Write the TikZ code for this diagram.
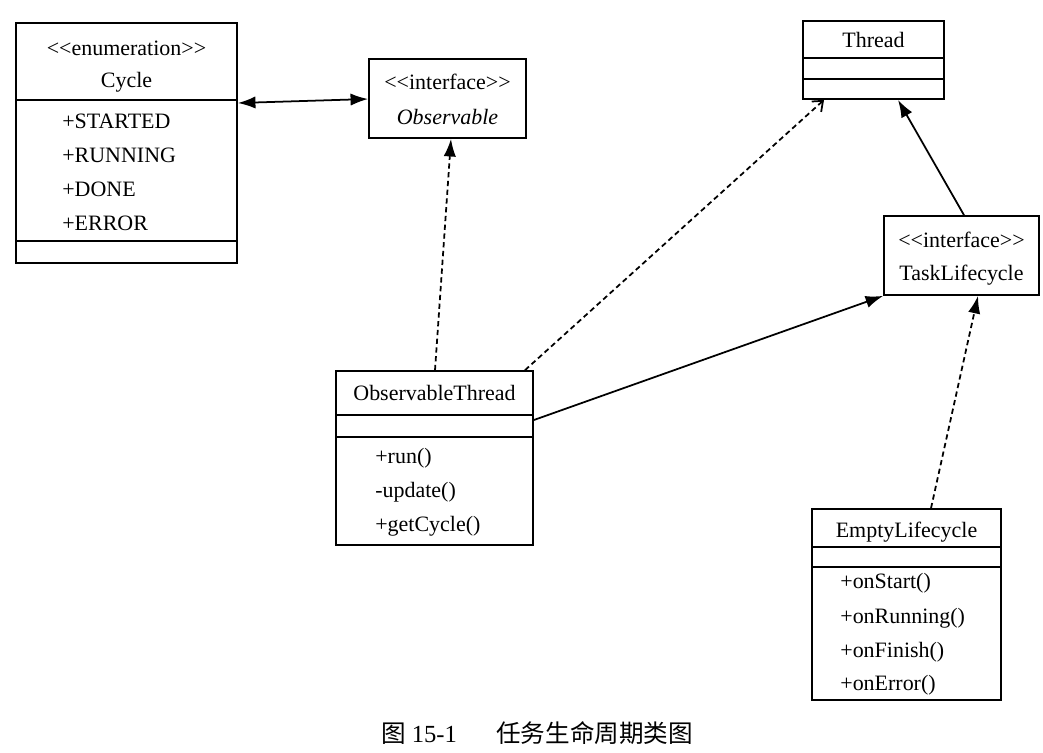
\documentclass[tikz,border=0pt]{standalone}
\usepackage{fontspec}
\setmainfont{Liberation Serif}
\newfontfamily\cjk{Noto Sans CJK SC}
\usetikzlibrary{arrows.meta}
\newcommand\stereo[1]{<\kern0pt<#1>\kern0pt>}
\tikzstyle{classbox}=[draw,line width=1pt,inner sep=0pt]
\tikzstyle{txt}=[font=\fontsize{12.5}{15}\selectfont,inner sep=0pt]
\tikzstyle{member}=[txt,anchor=west]
\tikzstyle{sep}=[line width=1pt]
\tikzstyle{link}=[line width=1pt]
\tikzstyle{dep}=[link,dash pattern=on 3pt off 2pt]
\tikzstyle{filled}=[-{Latex[length=10pt,width=7pt]}]
\tikzstyle{open}=[-{Straight Barb[length=5pt,width=8pt]}]

\begin{document}
\begin{tikzpicture}[x=0.02cm,y=-0.02cm]
  \useasboundingbox (0,0) rectangle (1043,752);
  % class boxes
  \node[classbox,minimum width=4.42cm,minimum height=4.8cm] (cycle) at (126.5,143) {};
  \node[classbox,minimum width=3.14cm,minimum height=1.58cm] (obs) at (447.5,98.5) {};
  \node[classbox,minimum width=2.82cm,minimum height=1.56cm] (thread) at (873.5,60) {};
  \node[classbox,minimum width=3.1cm,minimum height=1.58cm] (task) at (961.5,255.5) {};
  \node[classbox,minimum width=3.94cm,minimum height=3.48cm] (obsthread) at (434.5,458) {};
  \node[classbox,minimum width=3.78cm,minimum height=3.82cm] (empty) at (906.5,604.5) {};

  % compartments
  \draw[sep] (cycle.west |- 0,100) -- (cycle.east |- 0,100);
  \draw[sep] (cycle.west |- 0,241) -- (cycle.east |- 0,241);
  \draw[sep] (thread.west |- 0,58) -- (thread.east |- 0,58);
  \draw[sep] (thread.west |- 0,79) -- (thread.east |- 0,79);
  \draw[sep] (obsthread.west |- 0,415) -- (obsthread.east |- 0,415);
  \draw[sep] (obsthread.west |- 0,437) -- (obsthread.east |- 0,437);
  \draw[sep] (empty.west |- 0,547) -- (empty.east |- 0,547);
  \draw[sep] (empty.west |- 0,567) -- (empty.east |- 0,567);

  % texts
  \node[txt] (cyclest) at (126.5,48) {\stereo{enumeration}};
  \node[txt] (cyclename) at (126.5,82) {Cycle};
  \node[member] (started) at (62,121) {+STARTED};
  \node[member] (running) at (62,155) {+RUNNING};
  \node[member] (done) at (62,189) {+DONE};
  \node[member] (error) at (62,223) {+ERROR};
  \node[txt] (obsst) at (447.5,82) {\stereo{interface}};
  \node[txt] (obsname) at (447.5,117) {\textit{Observable}};
  \node[txt] (threadname) at (873.5,40) {Thread};
  \node[txt] (taskst) at (961.5,240) {\stereo{interface}};
  \node[txt] (taskname) at (961.5,275) {TaskLifecycle};
  \node[txt] (obsthreadname) at (434.5,393) {ObservableThread};
  \node[member] (run) at (375,458) {+run()};
  \node[member] (update) at (375,492) {-update()};
  \node[member] (getcycle) at (375,526) {+getCycle()};
  \node[txt] (emptyname) at (906.5,532) {EmptyLifecycle};
  \node[member] (onstart) at (840,583) {+onStart()};
  \node[member] (onrunning) at (840,618) {+onRunning()};
  \node[member] (onfinish) at (840,652) {+onFinish()};
  \node[member] (onerror) at (840,685) {+onError()};

  % relations
  \draw[link,{Latex[length=10pt,width=7pt]}-{Latex[length=10pt,width=7pt]}] (cycle.east |- 0,103) -- (obs.west |- 0,99);
  \draw[dep,filled] (obsthread.north -| 435,0) -- (obs.south -| 451,0);
  \draw[dep,open] (obsthread.north -| 525,0) -- (thread.south -| 824,0);
  \draw[link,filled] (obsthread.east |- 0,420) -- (task.south west);
  \draw[link,filled] (task.north -| 964,0) -- (thread.south -| 898,0);
  \draw[dep,filled] (empty.north -| 931,0) -- (task.south -| 978,0);

  \node[font=\fontsize{14}{16}\selectfont] (caption) at (537,733) {{\cjk 图} 15-1\hspace{1.6em}{\cjk 任务生命周期类图}};
\end{tikzpicture}
\end{document}
